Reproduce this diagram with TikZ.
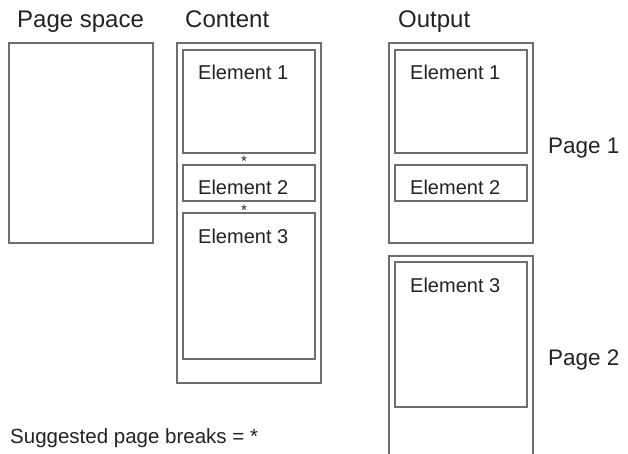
\documentclass[tikz,border=0pt]{standalone}
\usepackage{fontspec}
\setmainfont{Liberation Sans}
\definecolor{linec}{HTML}{6E6E6E}
\definecolor{txtc}{HTML}{222222}
\begin{document}
\begin{tikzpicture}[x=1pt,y=-1pt,
  box/.style={draw=linec,line width=1.3pt,inner sep=0pt,outer sep=0pt},
  head/.style={anchor=base west,inner sep=0pt,text=txtc,font=\fontsize{24}{28}\selectfont},
  elab/.style={anchor=base west,inner sep=0pt,text=txtc,font=\fontsize{20}{24}\selectfont},
  plab/.style={anchor=base west,inner sep=0pt,text=txtc,font=\fontsize{22.5}{26}\selectfont},
  brk/.style={inner sep=0pt,text=txtc,font=\fontsize{15}{18}\selectfont}]
\useasboundingbox (0,0) rectangle (628,454);
% headers
\node[head] (hps) at (17,28) {Page space};
\node[head] (hco) at (185,28) {Content};
\node[head] (hou) at (398,28) {Output};
% page space
\draw[box] (9,43) rectangle (153,243);
% content
\draw[box] (177,43) rectangle (321,383);
\draw[box] (183,50) rectangle (315,153);
\draw[box] (183,165) rectangle (315,201);
\draw[box] (183,213) rectangle (315,359);
\node[elab] (ce1) at (198,80) {Element 1};
\node[elab] (ce2) at (198,195) {Element 2};
\node[elab] (ce3) at (198,243) {Element 3};
\node[brk] (s1) at (244,161) {*};
\node[brk] (s2) at (244,210) {*};
% output page 1
\draw[box] (389,43) rectangle (533,243);
\draw[box] (395,50) rectangle (527,153);
\draw[box] (395,165) rectangle (527,201);
\node[elab] (oe1) at (410,80) {Element 1};
\node[elab] (oe2) at (410,195) {Element 2};
% output page 2
\draw[box] (389,456) -- (389,256) -- (533,256) -- (533,456);
\draw[box] (395,262) rectangle (527,407);
\node[elab] (oe3) at (410,292) {Element 3};
% page labels
\node[plab] (p1) at (548,154) {Page 1};
\node[plab] (p2) at (548,365) {Page 2};
% footnote
\node[anchor=base west,inner sep=0pt,text=txtc,font=\fontsize{20.5}{24}\selectfont] (fn) at (10,443) {Suggested page breaks = *};
\end{tikzpicture}
\end{document}
